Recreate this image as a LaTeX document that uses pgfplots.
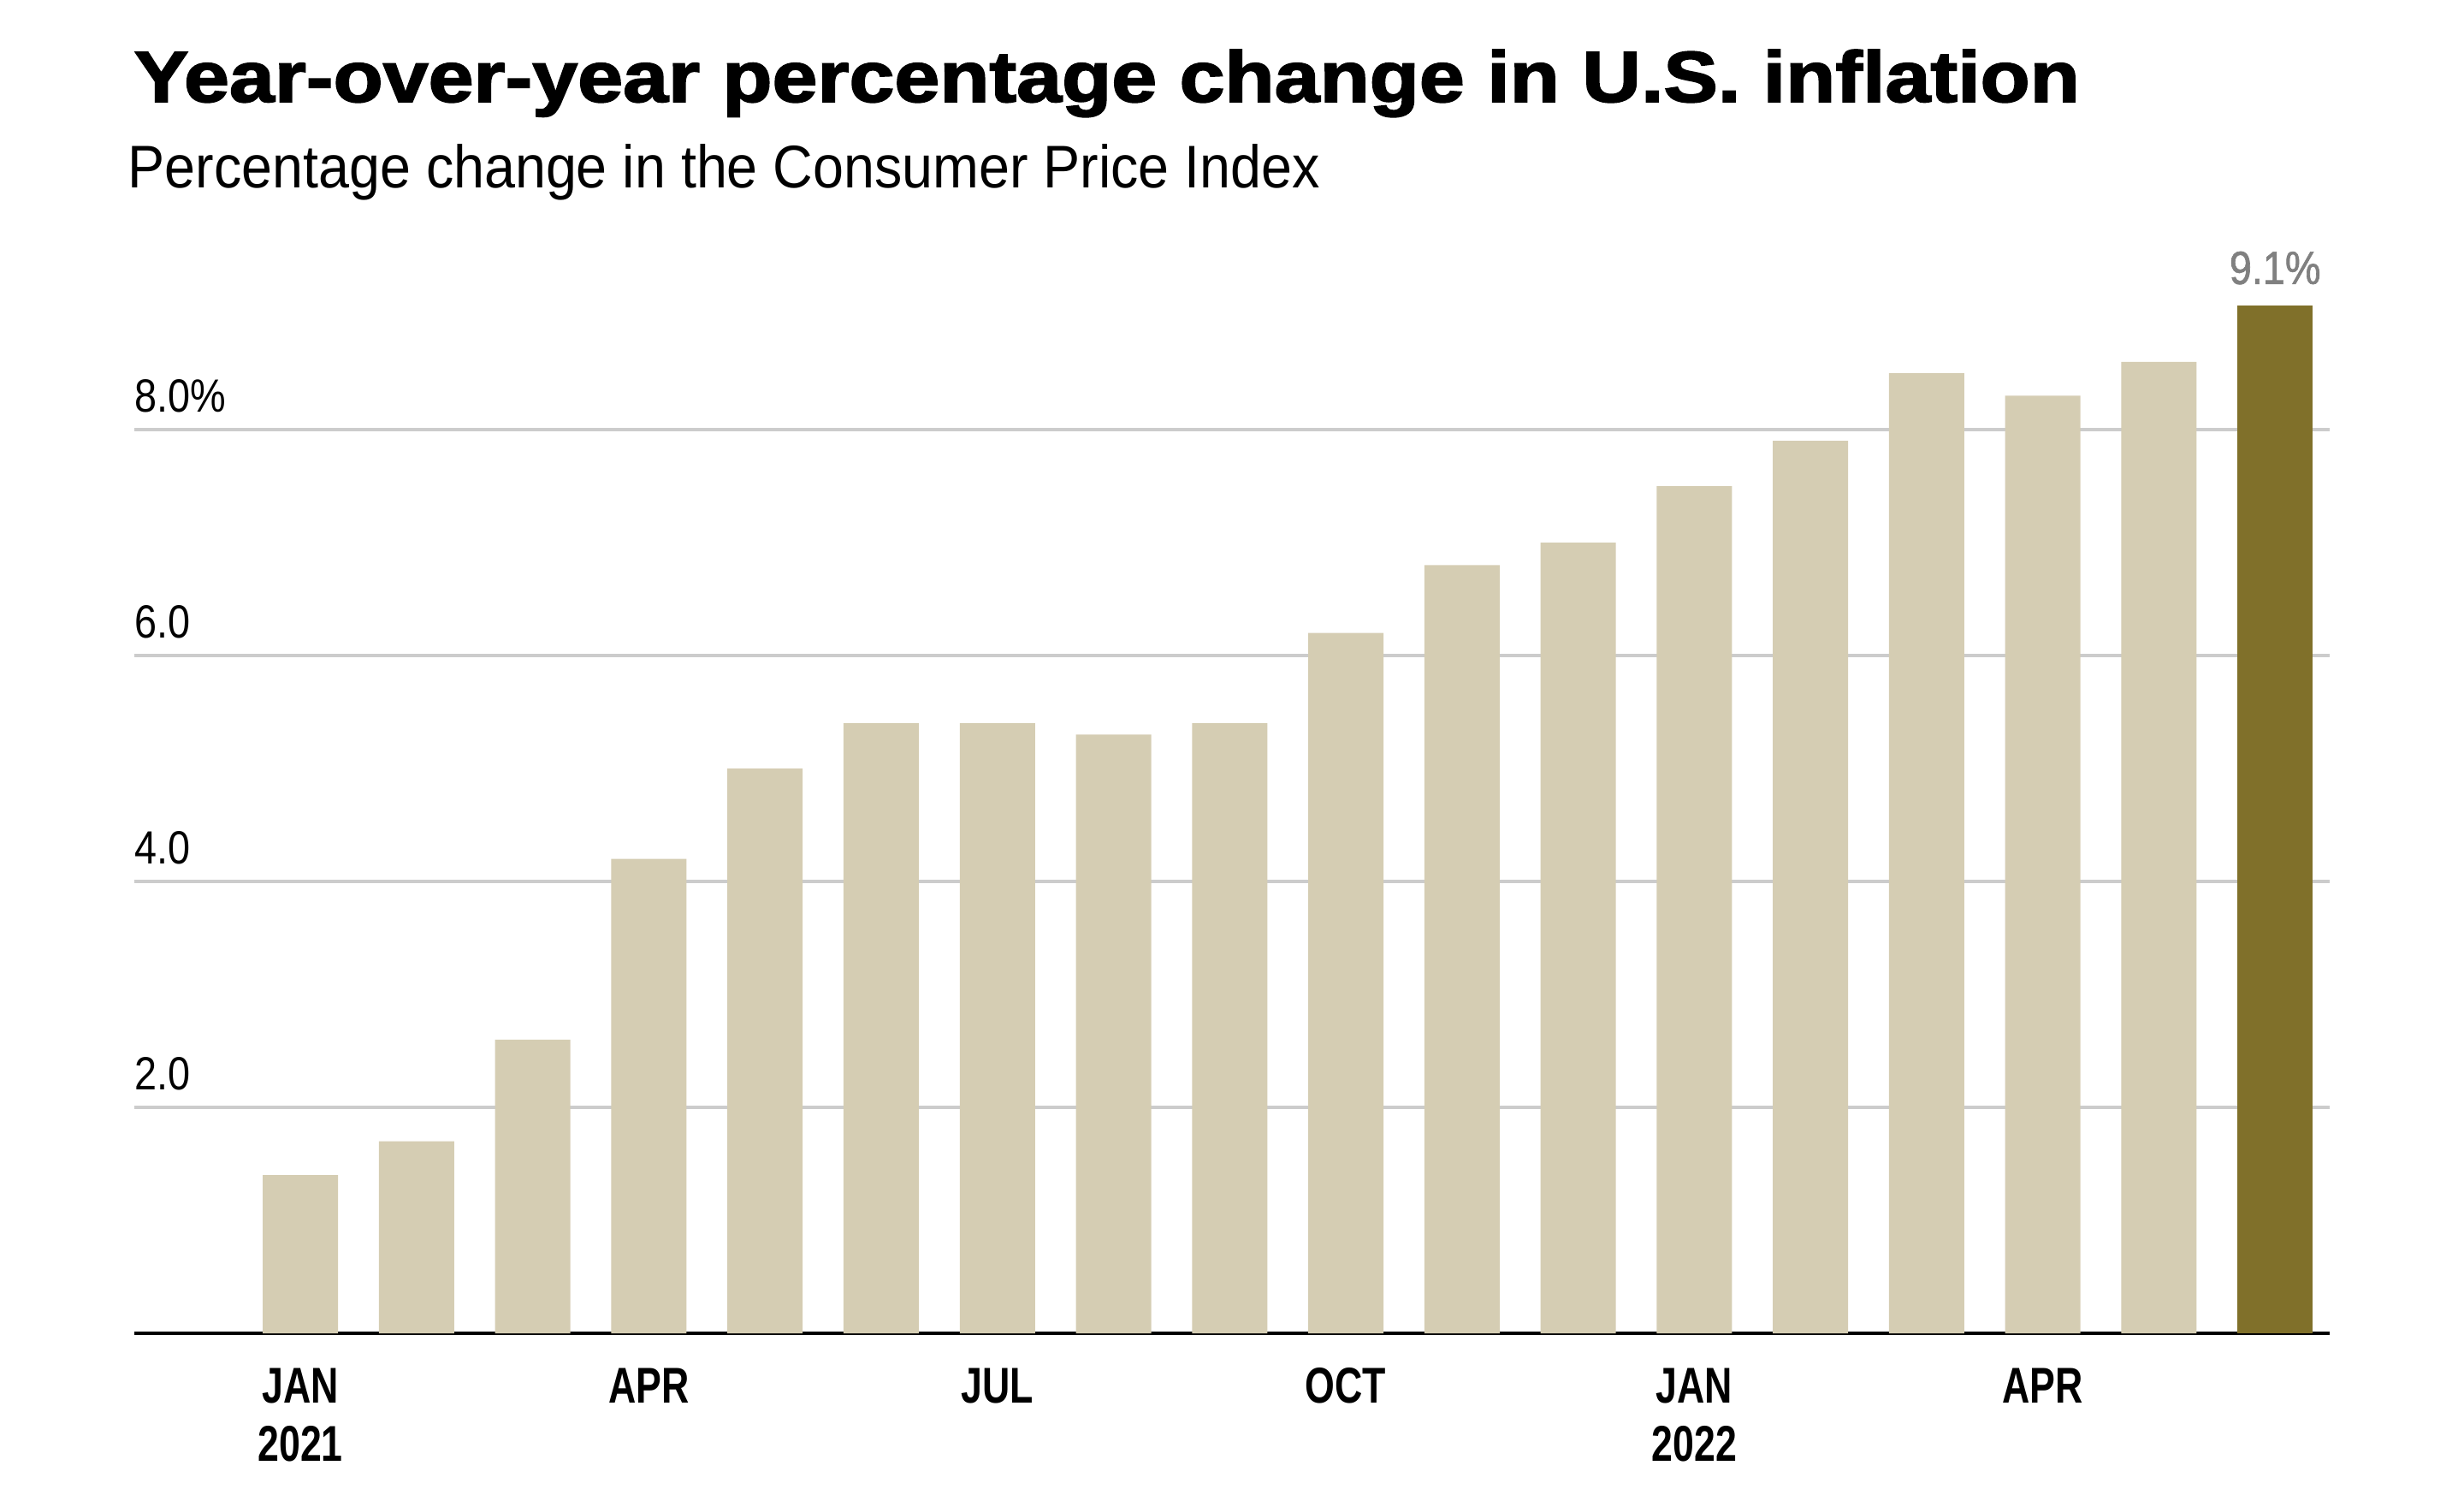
\documentclass[border=0pt]{standalone}
\usepackage{fontspec}
\usepackage{pgfplots}
\pgfplotsset{compat=1.18}
\setmainfont{Liberation Sans}
\newfontfamily\titlefont{Liberation Sans}[BoldFeatures={FakeBold=2}]
\newfontfamily\subfont{Liberation Sans}
\newfontfamily\tickfont{Liberation Sans}[FakeStretch=0.86]
\newfontfamily\xfont{Liberation Sans}[FakeStretch=0.76]
\newfontfamily\valfont{Liberation Sans}[FakeStretch=0.86,FakeBold=1.2]
\definecolor{barbeige}{HTML}{D5CDB3}
\definecolor{barolive}{HTML}{80702A}
\definecolor{gridgray}{HTML}{CCCCCC}
\definecolor{labgray}{HTML}{808080}
\begin{document}
\begin{tikzpicture}
\path[use as bounding box] (0,0) rectangle (720pt,440pt);
\node[anchor=base west, inner sep=0pt] at (39pt,410.25pt) {\resizebox{568.5pt}{15.25pt}{\titlefont\bfseries Year-over-year percentage change in U.S. inflation}};
\node[anchor=base west, inner sep=0pt] at (37.25pt,385pt) {\resizebox{348.25pt}{12.75pt}{\subfont Percentage change in the Consumer Price Index}};
\begin{axis}[
  at={(39.25pt,50.5pt)}, anchor=south west, scale only axis,
  width=641.5pt, height=316.8pt,
  xmin=-1.43, xmax=17.47, ymin=0, ymax=9.6,
  clip=false,
  separate axis lines,
  axis x line*=bottom, axis y line*=left,
  x axis line style={-, line width=1pt, black},
  y axis line style={draw=none},
  ymajorgrids, grid style={gridgray, line width=1pt},
  ytick={2,4,6,8},
  yticklabels={2.0,4.0,6.0,8.0\%},
  xtick={0,3,6,9,12,15},
  xticklabels={{JAN\\2021},APR,JUL,OCT,{JAN\\2022},APR},
  major tick length=0pt,
  ytick style={draw=none}, xtick style={draw=none},
  yticklabel style={font=\tickfont\fontsize{13.6}{16}\selectfont, anchor=base west, inner sep=0pt, yshift=5.25pt},
  xticklabel style={font=\xfont\bfseries\fontsize{14.7}{17}\selectfont, align=center, anchor=north, inner sep=0pt, yshift=-10pt},
]
\addplot[ybar, bar width=22pt, bar shift=0pt, fill=barbeige, draw=none] coordinates {
(0,1.4) (1,1.7) (2,2.6) (3,4.2) (4,5.0) (5,5.4) (6,5.4) (7,5.3) (8,5.4)
(9,6.2) (10,6.8) (11,7.0) (12,7.5) (13,7.9) (14,8.5) (15,8.3) (16,8.6)};
\addplot[ybar, bar width=22pt, bar shift=0pt, fill=barolive, draw=none,
  nodes near coords={9.1\%},
  nodes near coords style={anchor=base, inner sep=0pt, yshift=6.25pt, text=labgray, font=\valfont\fontsize{13.6}{16}\selectfont}] coordinates {(17,9.1)};
\end{axis}
\end{tikzpicture}
\end{document}
